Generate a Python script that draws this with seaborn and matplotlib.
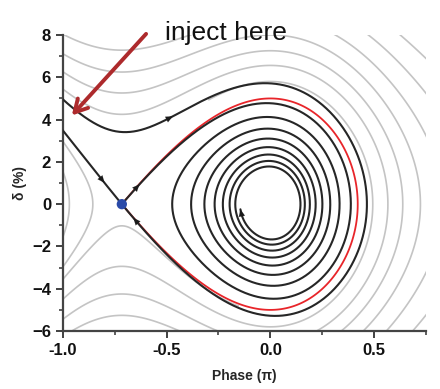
import numpy as np
import matplotlib
matplotlib.use("Agg")
import matplotlib.pyplot as plt
from matplotlib.ticker import MultipleLocator
import seaborn as sns


# values (phase in units of pi, delta in %)
ufp_phase = -0.716          # blue dot, unstable fixed point
bucket_height = 5.0         # red separatrix height at phase 0
damping_outer = 0.6         # decay seen on the injected orbit
damping_inner = 0.5         # decay seen on the captured spiral
spiral_end = (-0.144, -0.2) # last arrow head of the black spiral
inject_tip = (-0.966, 4.1)
inject_tail = (-0.59, 8.15)

# grey curves, by level of the undamped Hamiltonian
left_levels = [-5.6, -2.4]
below_levels = [-0.5]
wrap_levels = [3.3]
outer_levels = [8.0, 12.8, 18.5, 25.5, 34.0, 44.0]

# where the small arrow heads sit on the black orbits
arrow_marks = [(-0.81, 1.23), (-0.64, 0.85), (-0.654, -0.85), (-0.5, 4.0)]

x_ticks = [-1.0, -0.5, 0.0, 0.5]
y_ticks = [-6, -4, -2, 0, 2, 4, 6, 8]


# bucket model fitted to the fixed points above
phi_s = np.pi * (-1 - ufp_phase) / 2


def pot(x):
    return -np.cos(np.pi * x + phi_s) - np.pi * x * np.sin(phi_s)


def dpot(x):
    return np.pi * (np.sin(np.pi * x + phi_s) - np.sin(phi_s))


k = bucket_height ** 2 / 2 / (pot(ufp_phase) - pot(0.0))


def ham(x, d):
    return d ** 2 / 2 + k * pot(x)


def track(start, dt, gamma, stop):
    def rhs(s):
        return np.array([s[1], -k * dpot(s[0]) - gamma * s[1]])

    s = np.array(start, float)
    pts = [s.copy()]
    for _ in range(40000):
        k1 = rhs(s)
        k2 = rhs(s + dt / 2 * k1)
        k3 = rhs(s + dt / 2 * k2)
        k4 = rhs(s + dt * k3)
        s = s + dt / 6 * (k1 + 2 * k2 + 2 * k3 + k4)
        pts.append(s.copy())
        if stop(s):
            break
    return np.array(pts)


def eigen(gamma):
    w2 = k * np.pi ** 2 * -np.cos(np.pi * ufp_phase + phi_s)
    root = np.sqrt(gamma ** 2 + 4 * w2)
    return (-gamma + root) / 2, (-gamma - root) / 2


eps = 1e-4
h_end = ham(*spiral_end) + 0.05


def left_edge(s):
    return s[0] < -1.05 or s[1] > 9


def spiral_done(s):
    return ham(s[0], s[1]) < h_end and s[0] < 0 and -0.25 < s[1] < spiral_end[1]


_, lam_s = eigen(damping_outer)
orbit_left = track((ufp_phase - eps, -eps * lam_s), -0.0005, damping_outer, left_edge)[::-1]
orbit_inject = track((ufp_phase + eps, eps * lam_s), -0.0005, damping_outer, left_edge)[::-1]
lam_u, _ = eigen(damping_inner)
orbit_spiral = track((ufp_phase + eps, eps * lam_u), 0.0005, damping_inner, spiral_done)
orbits = [orbit_left, orbit_inject, orbit_spiral]

xs = np.linspace(-1.05, 0.8, 600)
ds = np.linspace(-6.5, 8.5, 600)
X, D = np.meshgrid(xs, ds)
H = ham(X, D)
h_sep = ham(ufp_phase, 0.0)


def masked(mask):
    return np.ma.array(H, mask=mask)


sns.set_style("ticks")
plt.rcParams["font.family"] = ["Liberation Sans", "DejaVu Sans"]

fig, ax = plt.subplots(figsize=(4.4, 3.89), dpi=100)
fig.subplots_adjust(left=0.143, right=0.968, bottom=0.149, top=0.910)

grey = "#c4c4c4"
style = dict(colors=grey, linewidths=1.2, linestyles="solid")
ax.contour(X, D, masked(X > ufp_phase), levels=left_levels, **style)
ax.contour(X, D, masked((D > 0) | (X > -0.15)), levels=below_levels, **style)
ax.contour(X, D, masked((D > 0) & (X < -0.3)), levels=wrap_levels, **style)
ax.contour(X, D, H, levels=outer_levels, **style)

# undamped separatrix
ax.contour(X, D, masked(X < ufp_phase - 0.003), levels=[h_sep], colors="#e8252a",
           linewidths=1.3, linestyles="solid")

for orb in orbits:
    sns.lineplot(x=orb[:, 0], y=orb[:, 1], sort=False, estimator=None,
                 color="#262626", lw=1.5, ax=ax, zorder=3)

# arrow heads along the orbits
head = dict(arrowstyle="-|>,head_length=0.5,head_width=0.22", color="#1a1a1a", lw=0.1)
for mx, my in arrow_marks:
    best = None
    for orb in orbits:
        dist = (orb[:, 0] - mx) ** 2 * 40 + (orb[:, 1] - my) ** 2 / 40
        i = int(np.argmin(dist))
        if best is None or dist[i] < best[0]:
            best = (dist[i], orb, i)
    _, orb, i = best
    j = min(i + 20, len(orb) - 1)
    ax.annotate("", xy=orb[j], xytext=orb[i], arrowprops=head, zorder=4)
ax.annotate("", xy=orbit_spiral[-1], xytext=orbit_spiral[-25], arrowprops=head, zorder=4)

sns.scatterplot(x=[ufp_phase], y=[0.0], s=55, color="#2a4aa8", edgecolor="none",
                ax=ax, zorder=5)

ax.annotate("", xy=inject_tip, xytext=inject_tail, annotation_clip=False,
            arrowprops=dict(arrowstyle="->,head_length=0.9,head_width=0.5",
                            color="#ad2a2c", lw=2.8), zorder=6)
ax.text(-0.51, 7.77, "inject here", fontsize=19, color="#111111", clip_on=False)

ax.set_xlim(-1.0, 0.75)
ax.set_ylim(-6, 8)
ax.set_xticks(x_ticks)
ax.set_yticks(y_ticks)
ax.xaxis.set_minor_locator(MultipleLocator(0.25))
ax.yaxis.set_minor_locator(MultipleLocator(1))
ax.set_xticklabels([f"{v:.1f}" for v in x_ticks])
ax.tick_params(which="major", length=5, width=1.3, labelsize=12, colors="#333333",
               labelcolor="#111111")
ax.tick_params(which="minor", length=3, width=1.1, colors="#333333")
for lab in ax.get_xticklabels() + ax.get_yticklabels():
    lab.set_fontweight("semibold")
sns.despine(ax=ax)
for side in ["left", "bottom"]:
    ax.spines[side].set_linewidth(1.6)
    ax.spines[side].set_color("#444444")
ax.set_xlabel("Phase (π)", fontsize=10, fontweight="bold", labelpad=8)
ax.set_ylabel("δ (%)", fontsize=10, fontweight="bold", labelpad=4)

fig.savefig("out.png", dpi=100)
